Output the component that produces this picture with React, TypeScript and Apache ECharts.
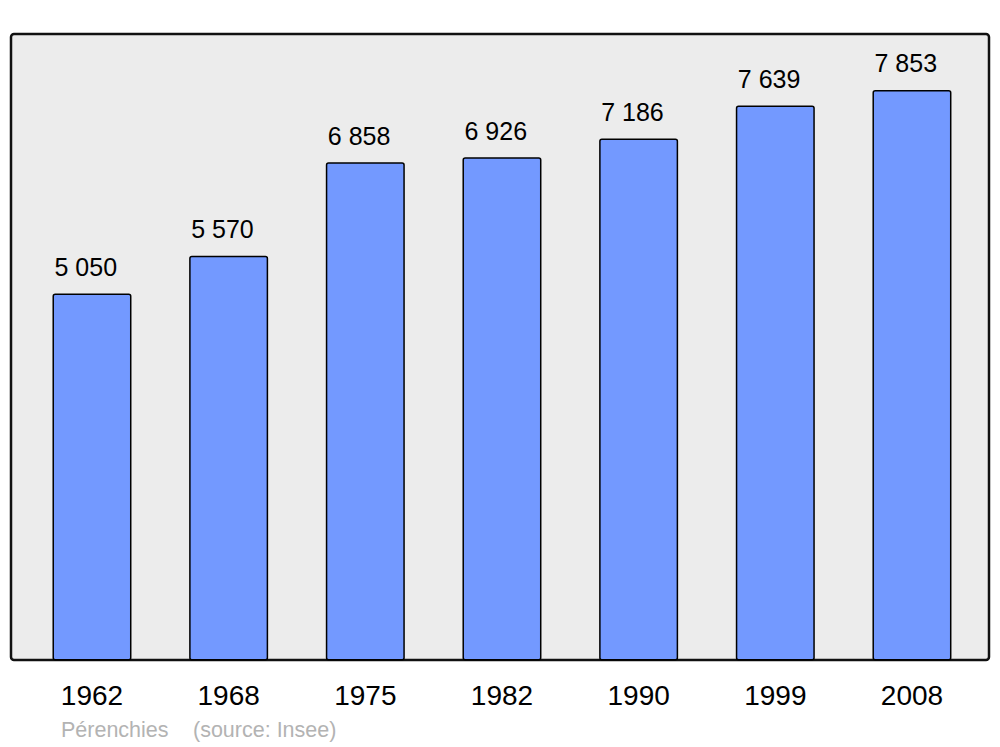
import React, { useEffect, useRef } from "react";
import * as echarts from "echarts";

const years = ["1962", "1968", "1975", "1982", "1990", "1999", "2008"];
const population = [5050, 5570, 6858, 6926, 7186, 7639, 7853];
const townName = "Pérenchies";
const sourceText = "(source: Insee)";

const fmt = (v: number) => String(v).replace(/\B(?=(\d{3})+(?!\d))/g, " ");

export default function App() {
  const ref = useRef<HTMLDivElement>(null);
  useEffect(() => {
    if (!ref.current) return;
    const chart = echarts.init(ref.current, null, { renderer: "svg" });
    const font = "'Liberation Sans', Arial, sans-serif";
    chart.setOption({
      animation: false,
      backgroundColor: "#ffffff",
      textStyle: { fontFamily: font },
      graphic: [
        {
          type: "rect",
          z: 0,
          shape: { x: 11, y: 34, width: 978, height: 626, r: 3 },
          style: { fill: "#ececec", stroke: "#111111", lineWidth: 2.5 },
        },
        {
          type: "text",
          x: 61,
          y: 730,
          style: {
            text: townName,
            fill: "#b3b3b3",
            font: `21.5px ${font}`,
            verticalAlign: "middle",
          },
        },
        {
          type: "text",
          x: 193,
          y: 730,
          style: {
            text: sourceText,
            fill: "#b3b3b3",
            font: `21.5px ${font}`,
            verticalAlign: "middle",
          },
        },
      ],
      grid: { left: 23.65, right: 19.7, top: 79.3, bottom: 86.5 },
      xAxis: {
        type: "category",
        data: years,
        axisLine: { show: false },
        axisTick: { show: false },
        axisLabel: {
          margin: 21,
          fontSize: 28,
          color: "#000000",
          fontFamily: font,
        },
      },
      yAxis: {
        type: "value",
        min: 0,
        max: 8000,
        show: false,
        splitLine: { show: false },
      },
      series: [
        {
          type: "bar",
          data: population,
          barWidth: 79,
          z: 2,
          itemStyle: {
            color: "#7399ff",
            borderColor: "#000000",
            borderWidth: 1.5,
            borderRadius: 2,
          },
          label: {
            show: true,
            position: "top",
            distance: 14,
            align: "left",
            offset: [-37.5, 0],
            fontSize: 25,
            color: "#000000",
            fontFamily: font,
            formatter: (p: any) => fmt(p.value),
          },
        },
      ],
    });
    return () => chart.dispose();
  }, []);
  return (
    <div
      ref={ref}
      style={{ position: "absolute", left: 0, top: 0, width: 1000, height: 747 }}
    />
  );
}
